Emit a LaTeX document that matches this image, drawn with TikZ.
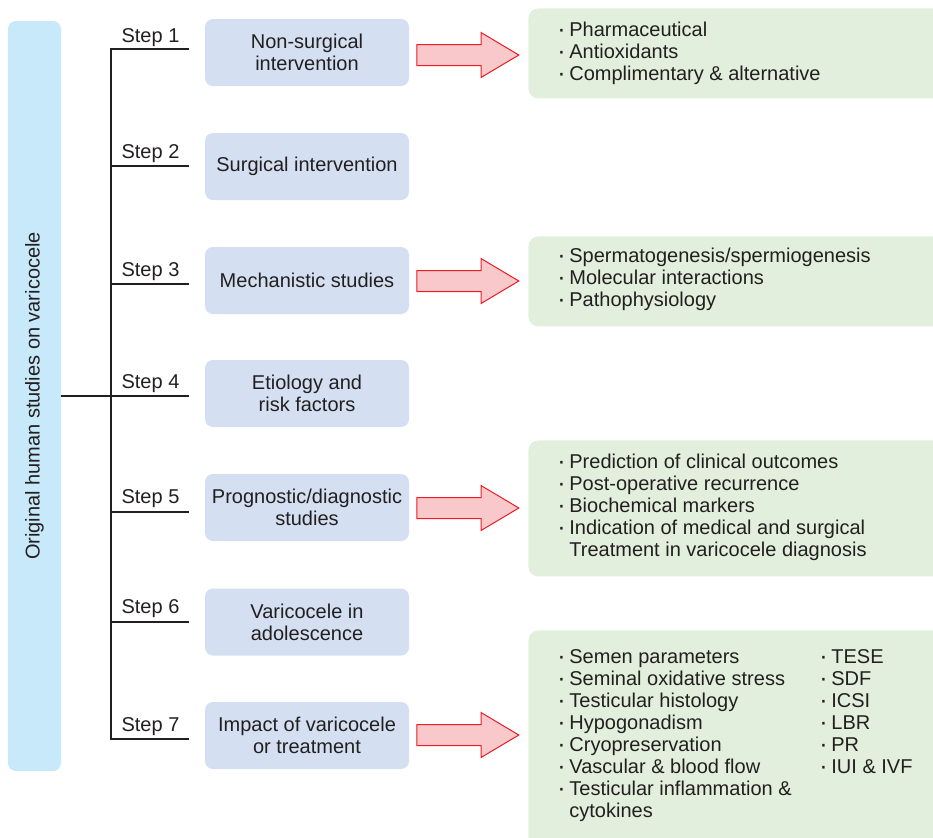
\documentclass[tikz,border=0pt]{standalone}
\usepackage{fontspec}
\setmainfont{Liberation Sans}
\usepackage{xcolor}
\usetikzlibrary{shapes.arrows}
\definecolor{barblue}{RGB}{199,233,249}
\definecolor{stepblue}{RGB}{212,224,241}
\definecolor{listgreen}{RGB}{226,239,221}
\definecolor{arrowpink}{RGB}{248,200,203}
\definecolor{arrowred}{RGB}{237,28,36}
\definecolor{ink}{RGB}{35,31,32}
\newcommand{\itm}{\makebox[7pt][l]{\hspace{1pt}\raisebox{-0.6pt}{\fontsize{12.5}{11}\selectfont ·}}}

\begin{document}
\begin{tikzpicture}[x=0.5pt,y=-0.5pt,
	every node/.style={font=\fontsize{10}{11}\selectfont,text=ink},
	stepbox/.style={fill=stepblue,rounded corners=4pt,minimum width=102pt,minimum height=33.5pt,align=center,inner sep=0pt},
	listbox/.style={fill=listgreen,rounded corners=5pt,anchor=north west,minimum width=210pt,inner sep=0pt},
	listtext/.style={anchor=base west,align=left,inner sep=0pt},
	fatarrow/.style={single arrow,draw=arrowred,fill=arrowpink,line width=0.5pt,minimum height=51pt,minimum width=22pt,inner sep=5pt,single arrow head extend=6pt,single arrow tip angle=61.5},
	branch/.style={draw=ink,line width=0.7pt}]
				\clip (0,0) rectangle (933,837);
				\node[fill=barblue,rounded corners=4pt,rotate=90,minimum width=375pt,minimum height=26.5pt,inner sep=0pt] (bar) at (34.5,396) {Original human studies on varicocele};
				\coordinate (t1) at (111,49);%trunk
				\coordinate (e1) at (189,49);
				\coordinate (t2) at (111,166);
				\coordinate (e2) at (189,166);
				\coordinate (t3) at (111,284);
				\coordinate (e3) at (189,284);
				\coordinate (e4) at (189,396);
				\coordinate (t5) at (111,512);
				\coordinate (e5) at (189,512);
				\coordinate (t6) at (111,622);
				\coordinate (e6) at (189,622);
				\coordinate (t7) at (111,739);
				\coordinate (e7) at (189,739);
				
				\draw[branch] (e1) -- (t1) -- (t7) -- (e7);
				\draw[branch] (t2) -- (e2);
				\draw[branch] (t3) -- (e3);
				\draw[branch] (bar.south) -- (e4);
				\draw[branch] (t5) -- (e5);
				\draw[branch] (t6) -- (e6);
				
				\node[anchor=base] (s1) at (150.5,42) {Step 1};
				\node[anchor=base] (s2) at (150.5,158) {Step 2};
				\node[anchor=base] (s3) at (150.5,276) {Step 3};
				\node[anchor=base] (s4) at (150.5,388) {Step 4};
				\node[anchor=base] (s5) at (150.5,503) {Step 5};
				\node[anchor=base] (s6) at (150.5,613) {Step 6};
				\node[anchor=base] (s7) at (150.5,731) {Step 7};
				
				\node[stepbox] (n1) at (307,52.5) {Non-surgical\\intervention};
				\node[stepbox] (n2) at (307,166.5) {Surgical intervention};
				\node[stepbox] (n3) at (307,280.5) {Mechanistic studies};
				\node[stepbox] (n4) at (307,393.5) {Etiology and\\risk factors};
				\node[stepbox] (n5) at (307,507.5) {Prognostic/diagnostic\\studies};
				\node[stepbox] (n6) at (307,622) {Varicocele in\\adolescence};
				\node[stepbox] (n7) at (307,735.5) {Impact of varicocele\\or treatment};
				
				\node[fatarrow] (a1) at (459,55) {};
				\node[fatarrow] (a3) at (459,281) {};
				\node[fatarrow] (a5) at (459,508) {};
				\node[fatarrow] (a7) at (459,735) {};
				
				\node[listbox,minimum height=45pt] (g1) at (528,8) {};
				\node[listbox,minimum height=45pt] (g3) at (528,236) {};
				\node[listbox,minimum height=68pt] (g5) at (528,440) {};
				\node[listbox,minimum height=110pt] (g7) at (528,630) {};
				
				% anchor base = last line
				\node[listtext] (l1) at (555,80) {\itm Pharmaceutical\\\itm Antioxidants\\\itm Complimentary \& alternative};
				\node[listtext] (l3) at (555,306) {\itm Spermatogenesis/spermiogenesis\\\itm Molecular interactions\\\itm Pathophysiology};
				\node[listtext] (l5) at (555,556) {\itm Prediction of clinical outcomes\\\itm Post-operative recurrence\\\itm Biochemical markers\\\itm Indication of medical and surgical\\\hspace*{7pt}Treatment in varicocele diagnosis};
				\node[listtext] (l7) at (555,817) {\itm Semen parameters\\\itm Seminal oxidative stress\\\itm Testicular histology\\\itm Hypogonadism\\\itm Cryopreservation\\\itm Vascular \& blood flow\\\itm Testicular inflammation \&\\\hspace*{7pt}cytokines};
				\node[listtext] (r7) at (817,773) {\itm TESE\\\itm SDF\\\itm ICSI\\\itm LBR\\\itm PR\\\itm IUI \& IVF};
			\end{tikzpicture}
\end{document}
